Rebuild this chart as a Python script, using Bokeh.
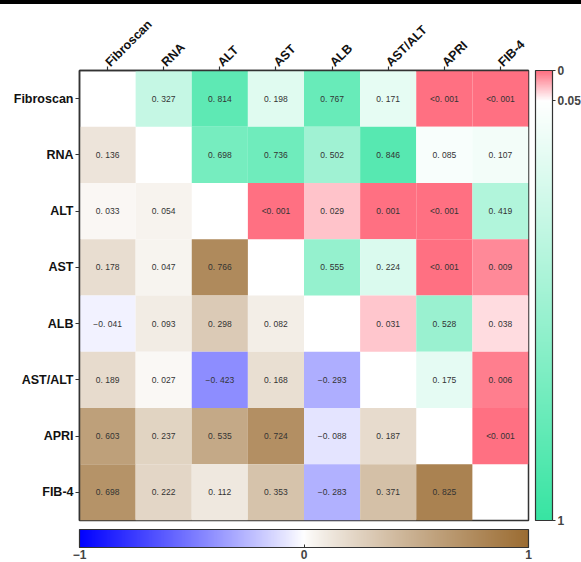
import math
from bokeh.plotting import figure
from bokeh.models import (ColumnDataSource, LinearColorMapper, ColorBar, FixedTicker,
                          FactorRange, AllLabels)
from bokeh.embed import file_html
from bokeh.resources import INLINE
from bokeh.core.properties import value

variables = ["Fibroscan", "RNA", "ALT", "AST", "ALB", "AST/ALT", "APRI", "FIB-4"]

# upper triangle: p-values (row i, columns i+1 ..)
p_fibroscan = ["0.327", "0.814", "0.198", "0.767", "0.171", "<0.001", "<0.001"]
p_rna = ["0.698", "0.736", "0.502", "0.846", "0.085", "0.107"]
p_alt = ["<0.001", "0.029", "0.001", "<0.001", "0.419"]
p_ast = ["0.555", "0.224", "<0.001", "0.009"]
p_alb = ["0.031", "0.528", "0.038"]
p_astalt = ["0.175", "0.006"]
p_apri = ["<0.001"]
p_rows = [p_fibroscan, p_rna, p_alt, p_ast, p_alb, p_astalt, p_apri, []]

# lower triangle: correlation coefficients (row i, columns 0 .. i-1)
r_rna = [0.136]
r_alt = [0.033, 0.054]
r_ast = [0.178, 0.047, 0.766]
r_alb = [-0.041, 0.093, 0.298, 0.082]
r_astalt = [0.189, 0.027, -0.423, 0.168, -0.293]
r_apri = [0.603, 0.237, 0.535, 0.724, -0.088, 0.187]
r_fib4 = [0.698, 0.222, 0.112, 0.353, -0.283, 0.371, 0.825]
r_rows = [[], r_rna, r_alt, r_ast, r_alb, r_astalt, r_apri, r_fib4]

corr_ticks = [-1, 0, 1]
p_ticks = [1, 0.05, 0]
P_SPLIT = 0.067  # share of the p colour bar given to 0 .. 0.05

WHITE = (255, 255, 255)
BLUE = (0, 0, 255)
BROWN = (155, 108, 50)
PINK = (255, 110, 128)
GREEN = (55, 228, 162)


def mix(c1, c2, t):
    t = max(0.0, min(1.0, t))
    return "#%02x%02x%02x" % tuple(int(round(a + (b - a) * t)) for a, b in zip(c1, c2))


def p_pos(pv):
    # position along the p colour bar, 1 at the top (p = 0), 0 at the bottom (p = 1)
    if pv <= 0.05:
        return round(1 - P_SPLIT * pv / 0.05, 6)
    return round((1 - P_SPLIT) * (1 - (pv - 0.05) / 0.95), 6)


N = 600
corr_palette = []
for k in range(N):
    v = -1 + (k + 0.5) * 2.0 / N
    if v < 0:
        corr_palette.append(mix(WHITE, BLUE, (-v) ** 0.93))
    else:
        corr_palette.append(mix(WHITE, BROWN, v ** 0.85))

p_palette = []
for k in range(N):
    q = (k + 0.5) / N
    if q >= 1 - P_SPLIT:
        p_palette.append(mix(WHITE, PINK, (q - (1 - P_SPLIT)) / P_SPLIT))
    else:
        p_palette.append(mix(GREEN, WHITE, q / (1 - P_SPLIT)))

corr_mapper = LinearColorMapper(palette=corr_palette, low=-1, high=1)
p_mapper = LinearColorMapper(palette=p_palette, low=0, high=1)


def fmt(v):
    s = "%.3f" % abs(v)
    s = s.replace(".", ". ")
    return ("\u2212" + s) if v < 0 else s


cx, cy, cv, ct = [], [], [], []
for i, row in enumerate(r_rows):
    for j, v in enumerate(row):
        cx.append(variables[j]); cy.append(variables[i]); cv.append(v); ct.append(fmt(v))

px, py, pq, pt = [], [], [], []
for i, row in enumerate(p_rows):
    for k, s in enumerate(row):
        j = i + 1 + k
        if s.startswith("<"):
            pv = 0.0
            lab = "<0. 001"
        else:
            pv = float(s)
            lab = s.replace(".", ". ")
        px.append(variables[j]); py.append(variables[i]); pq.append(p_pos(pv)); pt.append(lab)

csrc = ColumnDataSource(dict(x=cx, y=cy, v=cv, t=ct))
psrc = ColumnDataSource(dict(x=px, y=py, q=pq, t=pt))

p = figure(x_range=FactorRange(*variables), y_range=FactorRange(*reversed(variables)),
           frame_width=449, frame_height=450, x_axis_location="above",
           min_border_left=79, min_border_top=66, min_border_right=53, min_border_bottom=42,
           output_backend="svg", toolbar_location=None, tools="")
p.styles = {"border-top": "4px solid black"}

p.rect(x="x", y="y", width=1, height=1, source=csrc,
       fill_color={"field": "v", "transform": corr_mapper}, line_color=None)
p.rect(x="x", y="y", width=1, height=1, source=psrc,
       fill_color={"field": "q", "transform": p_mapper}, line_color=None)

for src in (csrc, psrc):
    p.text(x="x", y="y", text="t", source=src, text_font=value("Liberation Sans"),
           text_font_size="8.5px", text_align="center", text_baseline="middle",
           text_color="#333333")

p.grid.visible = False
p.outline_line_color = "#333333"
p.outline_line_width = 1.5
p.outline_line_alpha = 1

for ax in (p.xaxis[0], p.yaxis[0]):
    ax.axis_line_color = "#333333"
    ax.axis_line_width = 1.5
    ax.major_tick_line_color = "#333333"
    ax.major_tick_line_width = 1.2
    ax.major_tick_out = 4
    ax.major_tick_in = 0
    ax.minor_tick_line_color = None
    ax.major_label_text_font = "Liberation Sans"
    ax.major_label_text_font_style = "bold"
    ax.major_label_text_font_size = "12.5px"
    ax.major_label_text_color = "#111111"
    ax.major_label_standoff = 2

p.xaxis.major_label_orientation = math.pi / 4

p_tick_pos = [p_pos(t) for t in p_ticks]
cb_p = ColorBar(color_mapper=p_mapper, orientation="vertical",
                ticker=FixedTicker(ticks=p_tick_pos),
                major_label_overrides={p_pos(t): ("%g" % t) for t in p_ticks},
                major_label_policy=AllLabels(),
                width=17, height=450, padding=0, margin=0, location=(7, 0),
                bar_line_color="#333333", bar_line_width=1.2,
                border_line_color=None, background_fill_color=None,
                major_tick_line_color="#333333", major_tick_in=0, major_tick_out=3,
                major_label_text_font="Liberation Sans",
                major_label_text_font_style="bold",
                major_label_text_font_size="12px", label_standoff=2)
p.add_layout(cb_p, "right")

cb_c = ColorBar(color_mapper=corr_mapper, orientation="horizontal",
                ticker=FixedTicker(ticks=corr_ticks),
                major_label_policy=AllLabels(),
                title=" ", title_text_font_size="1px", title_standoff=6,
                width=449, height=18, padding=0, margin=0, location=(0, 0),
                bar_line_color="#333333", bar_line_width=1.2,
                border_line_color=None, background_fill_color=None,
                major_tick_line_color="#333333", major_tick_in=3, major_tick_out=0,
                major_label_text_font="Liberation Sans",
                major_label_text_font_style="bold",
                major_label_text_font_size="12px", label_standoff=2)
p.add_layout(cb_c, "below")

open("out.html", "w").write(file_html(p, INLINE))
